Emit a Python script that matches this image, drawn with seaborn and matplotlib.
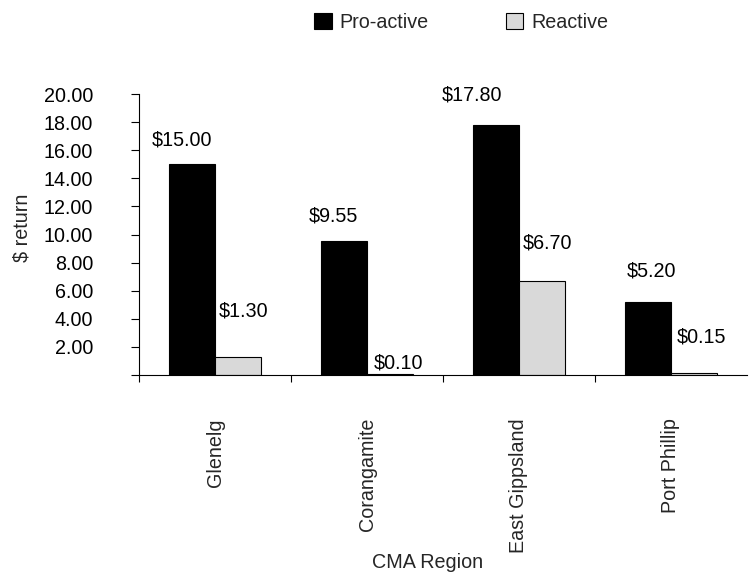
import matplotlib
matplotlib.use("Agg")
import matplotlib.pyplot as plt
from matplotlib.patches import Patch
from matplotlib.ticker import FixedLocator
import pandas as pd
import seaborn as sns

# Return on investment per CMA region
regions = ["Glenelg", "Corangamite", "East Gippsland", "Port Phillip"]
series = ["Pro-active", "Reactive"]
pro_active = [15.00, 9.55, 17.80, 5.20]
reactive = [1.30, 0.10, 6.70, 0.15]
y_ticks = [0, 2, 4, 6, 8, 10, 12, 14, 16, 18, 20]

# Label placement relative to each bar top (pixels: dx, dy)
label_offsets = {
    "Pro-active": [(-10, 24), (-11, 25), (-24, 30), (3, 31)],
    "Reactive": [(6, 46), (9, 11), (6, 38), (8, 36)],
}

df = pd.DataFrame({
    "region": regions * 2,
    "type": [series[0]] * len(regions) + [series[1]] * len(regions),
    "value": pro_active + reactive,
})

sns.set_style("ticks")
plt.rcParams["font.family"] = ["Liberation Sans", "DejaVu Sans"]
FS = 14.2

DPI = 100
fig = plt.figure(figsize=(7.49, 5.76), dpi=DPI)
ax = fig.add_axes([139 / 749, 1 - 375 / 576, 608 / 749, (375 - 94) / 576])

colors = ["#000000", "#d9d9d9"]
sns.barplot(data=df, x="region", y="value", hue="type", hue_order=series,
            palette=colors, width=0.6, edgecolor="black", linewidth=0.8,
            saturation=1, ax=ax, legend=False)

ax.set_xlim(-0.5, len(regions) - 0.5)
ax.set_ylim(0, 20)

# y axis
ax.yaxis.set_major_locator(FixedLocator(y_ticks))
ax.set_yticklabels(["" if t == 0 else f"{t:.2f}" for t in y_ticks], fontsize=FS)
ax.tick_params(axis="y", direction="out", length=6, width=0.8, pad=27, colors="black")

# x axis: labels centred on categories, tick marks between them
ax.set_xticks(range(len(regions)))
ax.set_xticklabels(regions, rotation=90, va="top", ha="center", fontsize=FS)
ax.tick_params(axis="x", which="major", length=0, pad=31)
ax.set_xticks([i - 0.5 for i in range(len(regions))], minor=True)
ax.tick_params(axis="x", which="minor", direction="out", length=5, width=0.8, colors="black")

ax.set_xlabel("")
ax.set_ylabel("")
for side in ["top", "right"]:
    ax.spines[side].set_visible(False)
for side in ["left", "bottom"]:
    ax.spines[side].set_color("black")
    ax.spines[side].set_linewidth(0.8)

# value labels
for container, name, vals in zip(ax.containers, series, [pro_active, reactive]):
    for rect, v, (dx, dy) in zip(container, vals, label_offsets[name]):
        cx = rect.get_x() + rect.get_width() / 2
        ax.annotate(f"${v:.2f}", xy=(cx, v), xytext=(dx, dy),
                    textcoords="offset pixels", ha="center", va="center",
                    fontsize=FS, color="black", annotation_clip=False)

fig.text(22 / 749, 1 - 228 / 576, "$ return", rotation=90, ha="center", va="center", fontsize=FS)
fig.text(428 / 749, 1 - 563 / 576, "CMA Region", ha="center", va="center", fontsize=FS)

handles = [Patch(facecolor=c, edgecolor="black", linewidth=0.8) for c in colors]
fig.legend(handles, series, loc="center", bbox_to_anchor=(461 / 749, 1 - 22 / 576),
           ncol=2, frameon=False, fontsize=FS, handlelength=0.9, handleheight=0.9,
           handletextpad=0.4, columnspacing=3.9, borderpad=0)

fig.savefig("out.png", dpi=DPI)
